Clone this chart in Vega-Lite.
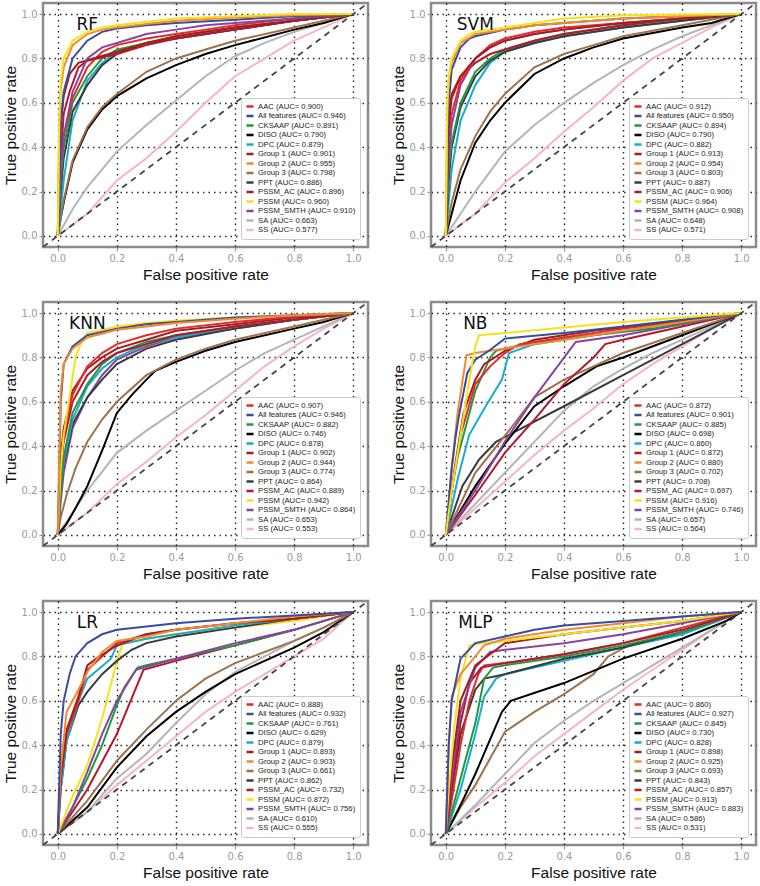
{
"$schema": "https://vega.github.io/schema/vega-lite/v6.json",
"background": "white",
"padding": {"left": 1, "top": 1, "right": 1, "bottom": 1},
"datasets": {
"RFa": [{"k":"AAC","l":"AAC (AUC= 0.900)"},{"k":"All features","l":"All features (AUC= 0.946)"},{"k":"CKSAAP","l":"CKSAAP (AUC= 0.891)"},{"k":"DISO","l":"DISO (AUC= 0.790)"},{"k":"DPC","l":"DPC (AUC= 0.879)"},{"k":"Group 1","l":"Group 1 (AUC= 0.901)"},{"k":"Group 2","l":"Group 2 (AUC= 0.955)"},{"k":"Group 3","l":"Group 3 (AUC= 0.798)"},{"k":"PPT","l":"PPT (AUC= 0.886)"},{"k":"PSSM_AC","l":"PSSM_AC (AUC= 0.896)"},{"k":"PSSM","l":"PSSM (AUC= 0.960)"},{"k":"PSSM_SMTH","l":"PSSM_SMTH (AUC= 0.910)"},{"k":"SA","l":"SA (AUC= 0.663)"},{"k":"SS","l":"SS (AUC= 0.577)"}],
"SVMa": [{"k":"AAC","l":"AAC (AUC= 0.912)"},{"k":"All features","l":"All features (AUC= 0.950)"},{"k":"CKSAAP","l":"CKSAAP (AUC= 0.894)"},{"k":"DISO","l":"DISO (AUC= 0.790)"},{"k":"DPC","l":"DPC (AUC= 0.882)"},{"k":"Group 1","l":"Group 1 (AUC= 0.913)"},{"k":"Group 2","l":"Group 2 (AUC= 0.954)"},{"k":"Group 3","l":"Group 3 (AUC= 0.803)"},{"k":"PPT","l":"PPT (AUC= 0.887)"},{"k":"PSSM_AC","l":"PSSM_AC (AUC= 0.906)"},{"k":"PSSM","l":"PSSM (AUC= 0.964)"},{"k":"PSSM_SMTH","l":"PSSM_SMTH (AUC= 0.908)"},{"k":"SA","l":"SA (AUC= 0.648)"},{"k":"SS","l":"SS (AUC= 0.571)"}],
"KNNa": [{"k":"AAC","l":"AAC (AUC= 0.907)"},{"k":"All features","l":"All features (AUC= 0.946)"},{"k":"CKSAAP","l":"CKSAAP (AUC= 0.882)"},{"k":"DISO","l":"DISO (AUC= 0.746)"},{"k":"DPC","l":"DPC (AUC= 0.878)"},{"k":"Group 1","l":"Group 1 (AUC= 0.902)"},{"k":"Group 2","l":"Group 2 (AUC= 0.944)"},{"k":"Group 3","l":"Group 3 (AUC= 0.774)"},{"k":"PPT","l":"PPT (AUC= 0.864)"},{"k":"PSSM_AC","l":"PSSM_AC (AUC= 0.889)"},{"k":"PSSM","l":"PSSM (AUC= 0.942)"},{"k":"PSSM_SMTH","l":"PSSM_SMTH (AUC= 0.864)"},{"k":"SA","l":"SA (AUC= 0.653)"},{"k":"SS","l":"SS (AUC= 0.553)"}],
"NBa": [{"k":"AAC","l":"AAC (AUC= 0.872)"},{"k":"All features","l":"All features (AUC= 0.901)"},{"k":"CKSAAP","l":"CKSAAP (AUC= 0.885)"},{"k":"DISO","l":"DISO (AUC= 0.698)"},{"k":"DPC","l":"DPC (AUC= 0.860)"},{"k":"Group 1","l":"Group 1 (AUC= 0.872)"},{"k":"Group 2","l":"Group 2 (AUC= 0.880)"},{"k":"Group 3","l":"Group 3 (AUC= 0.702)"},{"k":"PPT","l":"PPT (AUC= 0.708)"},{"k":"PSSM_AC","l":"PSSM_AC (AUC= 0.697)"},{"k":"PSSM","l":"PSSM (AUC= 0.916)"},{"k":"PSSM_SMTH","l":"PSSM_SMTH (AUC= 0.746)"},{"k":"SA","l":"SA (AUC= 0.657)"},{"k":"SS","l":"SS (AUC= 0.564)"}],
"LRa": [{"k":"AAC","l":"AAC (AUC= 0.888)"},{"k":"All features","l":"All features (AUC= 0.932)"},{"k":"CKSAAP","l":"CKSAAP (AUC= 0.761)"},{"k":"DISO","l":"DISO (AUC= 0.629)"},{"k":"DPC","l":"DPC (AUC= 0.879)"},{"k":"Group 1","l":"Group 1 (AUC= 0.893)"},{"k":"Group 2","l":"Group 2 (AUC= 0.903)"},{"k":"Group 3","l":"Group 3 (AUC= 0.661)"},{"k":"PPT","l":"PPT (AUC= 0.862)"},{"k":"PSSM_AC","l":"PSSM_AC (AUC= 0.732)"},{"k":"PSSM","l":"PSSM (AUC= 0.872)"},{"k":"PSSM_SMTH","l":"PSSM_SMTH (AUC= 0.756)"},{"k":"SA","l":"SA (AUC= 0.610)"},{"k":"SS","l":"SS (AUC= 0.555)"}],
"MLPa": [{"k":"AAC","l":"AAC (AUC= 0.860)"},{"k":"All features","l":"All features (AUC= 0.927)"},{"k":"CKSAAP","l":"CKSAAP (AUC= 0.845)"},{"k":"DISO","l":"DISO (AUC= 0.730)"},{"k":"DPC","l":"DPC (AUC= 0.828)"},{"k":"Group 1","l":"Group 1 (AUC= 0.898)"},{"k":"Group 2","l":"Group 2 (AUC= 0.925)"},{"k":"Group 3","l":"Group 3 (AUC= 0.693)"},{"k":"PPT","l":"PPT (AUC= 0.843)"},{"k":"PSSM_AC","l":"PSSM_AC (AUC= 0.857)"},{"k":"PSSM","l":"PSSM (AUC= 0.913)"},{"k":"PSSM_SMTH","l":"PSSM_SMTH (AUC= 0.883)"},{"k":"SA","l":"SA (AUC= 0.586)"},{"k":"SS","l":"SS (AUC= 0.531)"}],
"RF": [
{"k":"SS","x":0,"y":0},{"k":"SS","x":0.1,"y":0.1},{"k":"SS","x":0.2,"y":0.25},{"k":"SS","x":0.3,"y":0.35},{"k":"SS","x":0.4,"y":0.47},{"k":"SS","x":0.5,"y":0.6},{"k":"SS","x":0.6,"y":0.72},{"k":"SS","x":0.7,"y":0.8},{"k":"SS","x":0.8,"y":0.88},{"k":"SS","x":0.9,"y":0.94},{"k":"SS","x":1,"y":1},
{"k":"SA","x":0,"y":0},{"k":"SA","x":0.05,"y":0.12},{"k":"SA","x":0.1,"y":0.22},{"k":"SA","x":0.2,"y":0.38},{"k":"SA","x":0.3,"y":0.5},{"k":"SA","x":0.4,"y":0.61},{"k":"SA","x":0.5,"y":0.72},{"k":"SA","x":0.6,"y":0.81},{"k":"SA","x":0.7,"y":0.87},{"k":"SA","x":0.8,"y":0.92},{"k":"SA","x":0.9,"y":0.96},{"k":"SA","x":1,"y":1},
{"k":"DISO","x":0,"y":0},{"k":"DISO","x":0.01,"y":0.08},{"k":"DISO","x":0.02,"y":0.15},{"k":"DISO","x":0.05,"y":0.33},{"k":"DISO","x":0.1,"y":0.48},{"k":"DISO","x":0.15,"y":0.57},{"k":"DISO","x":0.2,"y":0.63},{"k":"DISO","x":0.3,"y":0.71},{"k":"DISO","x":0.4,"y":0.77},{"k":"DISO","x":0.5,"y":0.82},{"k":"DISO","x":0.6,"y":0.86},{"k":"DISO","x":0.8,"y":0.93},{"k":"DISO","x":0.9,"y":0.96},{"k":"DISO","x":1,"y":1},
{"k":"Group 3","x":0,"y":0},{"k":"Group 3","x":0.01,"y":0.08},{"k":"Group 3","x":0.02,"y":0.16},{"k":"Group 3","x":0.05,"y":0.34},{"k":"Group 3","x":0.1,"y":0.49},{"k":"Group 3","x":0.15,"y":0.58},{"k":"Group 3","x":0.2,"y":0.64},{"k":"Group 3","x":0.3,"y":0.74},{"k":"Group 3","x":0.4,"y":0.8},{"k":"Group 3","x":0.5,"y":0.84},{"k":"Group 3","x":0.6,"y":0.88},{"k":"Group 3","x":0.8,"y":0.94},{"k":"Group 3","x":1,"y":1},
{"k":"DPC","x":0,"y":0},{"k":"DPC","x":0.01,"y":0.12},{"k":"DPC","x":0.02,"y":0.25},{"k":"DPC","x":0.05,"y":0.52},{"k":"DPC","x":0.1,"y":0.7},{"k":"DPC","x":0.15,"y":0.78},{"k":"DPC","x":0.2,"y":0.83},{"k":"DPC","x":0.3,"y":0.87},{"k":"DPC","x":0.4,"y":0.89},{"k":"DPC","x":0.5,"y":0.91},{"k":"DPC","x":0.6,"y":0.93},{"k":"DPC","x":0.8,"y":0.97},{"k":"DPC","x":1,"y":1},
{"k":"PPT","x":0,"y":0},{"k":"PPT","x":0.01,"y":0.2},{"k":"PPT","x":0.02,"y":0.35},{"k":"PPT","x":0.05,"y":0.56},{"k":"PPT","x":0.1,"y":0.68},{"k":"PPT","x":0.15,"y":0.77},{"k":"PPT","x":0.2,"y":0.82},{"k":"PPT","x":0.3,"y":0.87},{"k":"PPT","x":0.4,"y":0.89},{"k":"PPT","x":0.5,"y":0.91},{"k":"PPT","x":0.6,"y":0.93},{"k":"PPT","x":0.8,"y":0.97},{"k":"PPT","x":1,"y":1},
{"k":"CKSAAP","x":0,"y":0},{"k":"CKSAAP","x":0.01,"y":0.25},{"k":"CKSAAP","x":0.02,"y":0.4},{"k":"CKSAAP","x":0.05,"y":0.6},{"k":"CKSAAP","x":0.1,"y":0.72},{"k":"CKSAAP","x":0.15,"y":0.8},{"k":"CKSAAP","x":0.2,"y":0.84},{"k":"CKSAAP","x":0.3,"y":0.87},{"k":"CKSAAP","x":0.4,"y":0.9},{"k":"CKSAAP","x":0.5,"y":0.92},{"k":"CKSAAP","x":0.6,"y":0.94},{"k":"CKSAAP","x":0.8,"y":0.97},{"k":"CKSAAP","x":1,"y":1},
{"k":"PSSM_AC","x":0,"y":0},{"k":"PSSM_AC","x":0.01,"y":0.35},{"k":"PSSM_AC","x":0.02,"y":0.55},{"k":"PSSM_AC","x":0.04,"y":0.65},{"k":"PSSM_AC","x":0.07,"y":0.76},{"k":"PSSM_AC","x":0.1,"y":0.79},{"k":"PSSM_AC","x":0.2,"y":0.82},{"k":"PSSM_AC","x":0.3,"y":0.86},{"k":"PSSM_AC","x":0.4,"y":0.89},{"k":"PSSM_AC","x":0.5,"y":0.91},{"k":"PSSM_AC","x":0.6,"y":0.93},{"k":"PSSM_AC","x":0.8,"y":0.97},{"k":"PSSM_AC","x":1,"y":1},
{"k":"AAC","x":0,"y":0},{"k":"AAC","x":0.01,"y":0.3},{"k":"AAC","x":0.02,"y":0.45},{"k":"AAC","x":0.05,"y":0.62},{"k":"AAC","x":0.1,"y":0.76},{"k":"AAC","x":0.15,"y":0.83},{"k":"AAC","x":0.2,"y":0.86},{"k":"AAC","x":0.3,"y":0.89},{"k":"AAC","x":0.4,"y":0.91},{"k":"AAC","x":0.5,"y":0.93},{"k":"AAC","x":0.6,"y":0.95},{"k":"AAC","x":0.8,"y":0.98},{"k":"AAC","x":1,"y":1},
{"k":"Group 1","x":0,"y":0},{"k":"Group 1","x":0.005,"y":0.35},{"k":"Group 1","x":0.01,"y":0.5},{"k":"Group 1","x":0.02,"y":0.63},{"k":"Group 1","x":0.04,"y":0.73},{"k":"Group 1","x":0.07,"y":0.78},{"k":"Group 1","x":0.12,"y":0.8},{"k":"Group 1","x":0.2,"y":0.83},{"k":"Group 1","x":0.3,"y":0.87},{"k":"Group 1","x":0.4,"y":0.9},{"k":"Group 1","x":0.5,"y":0.92},{"k":"Group 1","x":0.6,"y":0.94},{"k":"Group 1","x":0.8,"y":0.97},{"k":"Group 1","x":1,"y":1},
{"k":"PSSM_SMTH","x":0,"y":0},{"k":"PSSM_SMTH","x":0.01,"y":0.3},{"k":"PSSM_SMTH","x":0.02,"y":0.45},{"k":"PSSM_SMTH","x":0.05,"y":0.65},{"k":"PSSM_SMTH","x":0.1,"y":0.8},{"k":"PSSM_SMTH","x":0.15,"y":0.85},{"k":"PSSM_SMTH","x":0.2,"y":0.87},{"k":"PSSM_SMTH","x":0.3,"y":0.91},{"k":"PSSM_SMTH","x":0.4,"y":0.93},{"k":"PSSM_SMTH","x":0.5,"y":0.95},{"k":"PSSM_SMTH","x":0.6,"y":0.96},{"k":"PSSM_SMTH","x":0.8,"y":0.98},{"k":"PSSM_SMTH","x":1,"y":1},
{"k":"All features","x":0,"y":0},{"k":"All features","x":0.01,"y":0.5},{"k":"All features","x":0.02,"y":0.65},{"k":"All features","x":0.05,"y":0.8},{"k":"All features","x":0.1,"y":0.88},{"k":"All features","x":0.15,"y":0.92},{"k":"All features","x":0.2,"y":0.935},{"k":"All features","x":0.3,"y":0.95},{"k":"All features","x":0.4,"y":0.96},{"k":"All features","x":0.6,"y":0.975},{"k":"All features","x":0.8,"y":0.99},{"k":"All features","x":1,"y":1},
{"k":"Group 2","x":0,"y":0},{"k":"Group 2","x":0.005,"y":0.5},{"k":"Group 2","x":0.01,"y":0.66},{"k":"Group 2","x":0.02,"y":0.76},{"k":"Group 2","x":0.05,"y":0.86},{"k":"Group 2","x":0.1,"y":0.91},{"k":"Group 2","x":0.15,"y":0.93},{"k":"Group 2","x":0.2,"y":0.94},{"k":"Group 2","x":0.3,"y":0.955},{"k":"Group 2","x":0.4,"y":0.97},{"k":"Group 2","x":0.6,"y":0.985},{"k":"Group 2","x":0.8,"y":0.995},{"k":"Group 2","x":1,"y":1},
{"k":"PSSM","x":0,"y":0},{"k":"PSSM","x":0.005,"y":0.55},{"k":"PSSM","x":0.01,"y":0.7},{"k":"PSSM","x":0.02,"y":0.8},{"k":"PSSM","x":0.05,"y":0.88},{"k":"PSSM","x":0.1,"y":0.92},{"k":"PSSM","x":0.15,"y":0.94},{"k":"PSSM","x":0.2,"y":0.95},{"k":"PSSM","x":0.3,"y":0.965},{"k":"PSSM","x":0.4,"y":0.98},{"k":"PSSM","x":0.6,"y":0.99},{"k":"PSSM","x":0.8,"y":1},{"k":"PSSM","x":1,"y":1}
],
"SVM": [
{"k":"SS","x":0,"y":0},{"k":"SS","x":0.1,"y":0.1},{"k":"SS","x":0.2,"y":0.24},{"k":"SS","x":0.3,"y":0.35},{"k":"SS","x":0.4,"y":0.47},{"k":"SS","x":0.5,"y":0.58},{"k":"SS","x":0.6,"y":0.7},{"k":"SS","x":0.7,"y":0.8},{"k":"SS","x":0.8,"y":0.87},{"k":"SS","x":0.9,"y":0.94},{"k":"SS","x":1,"y":1},
{"k":"SA","x":0,"y":0},{"k":"SA","x":0.05,"y":0.1},{"k":"SA","x":0.1,"y":0.2},{"k":"SA","x":0.2,"y":0.38},{"k":"SA","x":0.3,"y":0.5},{"k":"SA","x":0.4,"y":0.6},{"k":"SA","x":0.5,"y":0.69},{"k":"SA","x":0.6,"y":0.77},{"k":"SA","x":0.7,"y":0.84},{"k":"SA","x":0.8,"y":0.9},{"k":"SA","x":0.9,"y":0.95},{"k":"SA","x":1,"y":1},
{"k":"DISO","x":0,"y":0},{"k":"DISO","x":0.01,"y":0.05},{"k":"DISO","x":0.02,"y":0.1},{"k":"DISO","x":0.05,"y":0.25},{"k":"DISO","x":0.1,"y":0.42},{"k":"DISO","x":0.15,"y":0.52},{"k":"DISO","x":0.2,"y":0.6},{"k":"DISO","x":0.3,"y":0.73},{"k":"DISO","x":0.4,"y":0.8},{"k":"DISO","x":0.5,"y":0.85},{"k":"DISO","x":0.6,"y":0.89},{"k":"DISO","x":0.8,"y":0.94},{"k":"DISO","x":0.9,"y":0.96},{"k":"DISO","x":1,"y":1},
{"k":"Group 3","x":0,"y":0},{"k":"Group 3","x":0.01,"y":0.08},{"k":"Group 3","x":0.02,"y":0.15},{"k":"Group 3","x":0.05,"y":0.3},{"k":"Group 3","x":0.1,"y":0.45},{"k":"Group 3","x":0.15,"y":0.56},{"k":"Group 3","x":0.2,"y":0.64},{"k":"Group 3","x":0.3,"y":0.76},{"k":"Group 3","x":0.4,"y":0.82},{"k":"Group 3","x":0.5,"y":0.86},{"k":"Group 3","x":0.6,"y":0.9},{"k":"Group 3","x":0.8,"y":0.95},{"k":"Group 3","x":1,"y":1},
{"k":"DPC","x":0,"y":0},{"k":"DPC","x":0.01,"y":0.15},{"k":"DPC","x":0.02,"y":0.3},{"k":"DPC","x":0.05,"y":0.52},{"k":"DPC","x":0.1,"y":0.68},{"k":"DPC","x":0.15,"y":0.78},{"k":"DPC","x":0.2,"y":0.83},{"k":"DPC","x":0.3,"y":0.87},{"k":"DPC","x":0.4,"y":0.9},{"k":"DPC","x":0.6,"y":0.94},{"k":"DPC","x":0.8,"y":0.97},{"k":"DPC","x":1,"y":1},
{"k":"PPT","x":0,"y":0},{"k":"PPT","x":0.01,"y":0.25},{"k":"PPT","x":0.02,"y":0.4},{"k":"PPT","x":0.05,"y":0.58},{"k":"PPT","x":0.1,"y":0.72},{"k":"PPT","x":0.15,"y":0.79},{"k":"PPT","x":0.2,"y":0.83},{"k":"PPT","x":0.3,"y":0.87},{"k":"PPT","x":0.4,"y":0.9},{"k":"PPT","x":0.6,"y":0.94},{"k":"PPT","x":0.8,"y":0.97},{"k":"PPT","x":1,"y":1},
{"k":"CKSAAP","x":0,"y":0},{"k":"CKSAAP","x":0.01,"y":0.3},{"k":"CKSAAP","x":0.02,"y":0.42},{"k":"CKSAAP","x":0.05,"y":0.6},{"k":"CKSAAP","x":0.1,"y":0.74},{"k":"CKSAAP","x":0.15,"y":0.8},{"k":"CKSAAP","x":0.2,"y":0.84},{"k":"CKSAAP","x":0.3,"y":0.88},{"k":"CKSAAP","x":0.4,"y":0.91},{"k":"CKSAAP","x":0.6,"y":0.95},{"k":"CKSAAP","x":0.8,"y":0.98},{"k":"CKSAAP","x":1,"y":1},
{"k":"PSSM_AC","x":0,"y":0},{"k":"PSSM_AC","x":0.01,"y":0.55},{"k":"PSSM_AC","x":0.02,"y":0.64},{"k":"PSSM_AC","x":0.05,"y":0.72},{"k":"PSSM_AC","x":0.1,"y":0.78},{"k":"PSSM_AC","x":0.15,"y":0.82},{"k":"PSSM_AC","x":0.2,"y":0.84},{"k":"PSSM_AC","x":0.3,"y":0.88},{"k":"PSSM_AC","x":0.4,"y":0.91},{"k":"PSSM_AC","x":0.6,"y":0.95},{"k":"PSSM_AC","x":0.8,"y":0.98},{"k":"PSSM_AC","x":1,"y":1},
{"k":"PSSM_SMTH","x":0,"y":0},{"k":"PSSM_SMTH","x":0.01,"y":0.35},{"k":"PSSM_SMTH","x":0.02,"y":0.5},{"k":"PSSM_SMTH","x":0.05,"y":0.68},{"k":"PSSM_SMTH","x":0.1,"y":0.8},{"k":"PSSM_SMTH","x":0.15,"y":0.85},{"k":"PSSM_SMTH","x":0.2,"y":0.88},{"k":"PSSM_SMTH","x":0.3,"y":0.91},{"k":"PSSM_SMTH","x":0.4,"y":0.93},{"k":"PSSM_SMTH","x":0.6,"y":0.96},{"k":"PSSM_SMTH","x":0.8,"y":0.98},{"k":"PSSM_SMTH","x":1,"y":1},
{"k":"AAC","x":0,"y":0},{"k":"AAC","x":0.01,"y":0.45},{"k":"AAC","x":0.02,"y":0.55},{"k":"AAC","x":0.05,"y":0.7},{"k":"AAC","x":0.1,"y":0.8},{"k":"AAC","x":0.15,"y":0.86},{"k":"AAC","x":0.2,"y":0.89},{"k":"AAC","x":0.3,"y":0.92},{"k":"AAC","x":0.4,"y":0.94},{"k":"AAC","x":0.6,"y":0.96},{"k":"AAC","x":0.8,"y":0.98},{"k":"AAC","x":1,"y":1},
{"k":"Group 1","x":0,"y":0},{"k":"Group 1","x":0.01,"y":0.5},{"k":"Group 1","x":0.02,"y":0.62},{"k":"Group 1","x":0.05,"y":0.72},{"k":"Group 1","x":0.1,"y":0.8},{"k":"Group 1","x":0.15,"y":0.85},{"k":"Group 1","x":0.2,"y":0.88},{"k":"Group 1","x":0.3,"y":0.91},{"k":"Group 1","x":0.4,"y":0.93},{"k":"Group 1","x":0.6,"y":0.96},{"k":"Group 1","x":0.8,"y":0.98},{"k":"Group 1","x":1,"y":1},
{"k":"All features","x":0,"y":0},{"k":"All features","x":0.01,"y":0.6},{"k":"All features","x":0.02,"y":0.75},{"k":"All features","x":0.05,"y":0.85},{"k":"All features","x":0.08,"y":0.89},{"k":"All features","x":0.1,"y":0.9},{"k":"All features","x":0.2,"y":0.93},{"k":"All features","x":0.3,"y":0.95},{"k":"All features","x":0.4,"y":0.96},{"k":"All features","x":0.6,"y":0.98},{"k":"All features","x":0.8,"y":0.99},{"k":"All features","x":1,"y":1},
{"k":"Group 2","x":0,"y":0},{"k":"Group 2","x":0.005,"y":0.55},{"k":"Group 2","x":0.01,"y":0.7},{"k":"Group 2","x":0.02,"y":0.78},{"k":"Group 2","x":0.05,"y":0.87},{"k":"Group 2","x":0.1,"y":0.91},{"k":"Group 2","x":0.2,"y":0.93},{"k":"Group 2","x":0.3,"y":0.95},{"k":"Group 2","x":0.4,"y":0.96},{"k":"Group 2","x":0.6,"y":0.98},{"k":"Group 2","x":0.8,"y":0.99},{"k":"Group 2","x":1,"y":1},
{"k":"PSSM","x":0,"y":0},{"k":"PSSM","x":0.005,"y":0.6},{"k":"PSSM","x":0.01,"y":0.72},{"k":"PSSM","x":0.02,"y":0.8},{"k":"PSSM","x":0.05,"y":0.88},{"k":"PSSM","x":0.08,"y":0.91},{"k":"PSSM","x":0.1,"y":0.92},{"k":"PSSM","x":0.2,"y":0.94},{"k":"PSSM","x":0.3,"y":0.96},{"k":"PSSM","x":0.4,"y":0.98},{"k":"PSSM","x":0.6,"y":0.995},{"k":"PSSM","x":1,"y":1}
],
"KNN": [
{"k":"SS","x":0,"y":0},{"k":"SS","x":0.1,"y":0.1},{"k":"SS","x":0.2,"y":0.23},{"k":"SS","x":0.3,"y":0.33},{"k":"SS","x":0.4,"y":0.44},{"k":"SS","x":0.5,"y":0.54},{"k":"SS","x":0.6,"y":0.65},{"k":"SS","x":0.7,"y":0.76},{"k":"SS","x":0.8,"y":0.85},{"k":"SS","x":0.9,"y":0.93},{"k":"SS","x":1,"y":1},
{"k":"SA","x":0,"y":0},{"k":"SA","x":0.05,"y":0.1},{"k":"SA","x":0.1,"y":0.2},{"k":"SA","x":0.2,"y":0.37},{"k":"SA","x":0.3,"y":0.47},{"k":"SA","x":0.4,"y":0.56},{"k":"SA","x":0.5,"y":0.65},{"k":"SA","x":0.6,"y":0.74},{"k":"SA","x":0.7,"y":0.82},{"k":"SA","x":0.8,"y":0.88},{"k":"SA","x":0.9,"y":0.94},{"k":"SA","x":1,"y":1},
{"k":"DISO","x":0,"y":0},{"k":"DISO","x":0.03,"y":0.05},{"k":"DISO","x":0.06,"y":0.12},{"k":"DISO","x":0.1,"y":0.22},{"k":"DISO","x":0.15,"y":0.38},{"k":"DISO","x":0.2,"y":0.55},{"k":"DISO","x":0.25,"y":0.63},{"k":"DISO","x":0.3,"y":0.7},{"k":"DISO","x":0.33,"y":0.74},{"k":"DISO","x":0.4,"y":0.78},{"k":"DISO","x":0.5,"y":0.83},{"k":"DISO","x":0.6,"y":0.87},{"k":"DISO","x":0.8,"y":0.93},{"k":"DISO","x":0.9,"y":0.96},{"k":"DISO","x":1,"y":1},
{"k":"Group 3","x":0,"y":0},{"k":"Group 3","x":0.01,"y":0.08},{"k":"Group 3","x":0.03,"y":0.18},{"k":"Group 3","x":0.06,"y":0.3},{"k":"Group 3","x":0.1,"y":0.42},{"k":"Group 3","x":0.15,"y":0.52},{"k":"Group 3","x":0.2,"y":0.6},{"k":"Group 3","x":0.3,"y":0.72},{"k":"Group 3","x":0.4,"y":0.79},{"k":"Group 3","x":0.5,"y":0.84},{"k":"Group 3","x":0.6,"y":0.88},{"k":"Group 3","x":0.8,"y":0.94},{"k":"Group 3","x":1,"y":1},
{"k":"PSSM_SMTH","x":0,"y":0},{"k":"PSSM_SMTH","x":0.01,"y":0.15},{"k":"PSSM_SMTH","x":0.02,"y":0.28},{"k":"PSSM_SMTH","x":0.05,"y":0.48},{"k":"PSSM_SMTH","x":0.1,"y":0.62},{"k":"PSSM_SMTH","x":0.15,"y":0.72},{"k":"PSSM_SMTH","x":0.2,"y":0.79},{"k":"PSSM_SMTH","x":0.3,"y":0.85},{"k":"PSSM_SMTH","x":0.4,"y":0.89},{"k":"PSSM_SMTH","x":0.6,"y":0.93},{"k":"PSSM_SMTH","x":0.8,"y":0.97},{"k":"PSSM_SMTH","x":1,"y":1},
{"k":"PPT","x":0,"y":0},{"k":"PPT","x":0.01,"y":0.2},{"k":"PPT","x":0.02,"y":0.32},{"k":"PPT","x":0.05,"y":0.5},{"k":"PPT","x":0.1,"y":0.62},{"k":"PPT","x":0.15,"y":0.7},{"k":"PPT","x":0.2,"y":0.77},{"k":"PPT","x":0.3,"y":0.84},{"k":"PPT","x":0.4,"y":0.88},{"k":"PPT","x":0.6,"y":0.93},{"k":"PPT","x":0.8,"y":0.97},{"k":"PPT","x":1,"y":1},
{"k":"DPC","x":0,"y":0},{"k":"DPC","x":0.01,"y":0.2},{"k":"DPC","x":0.02,"y":0.33},{"k":"DPC","x":0.05,"y":0.52},{"k":"DPC","x":0.1,"y":0.67},{"k":"DPC","x":0.15,"y":0.75},{"k":"DPC","x":0.2,"y":0.8},{"k":"DPC","x":0.3,"y":0.86},{"k":"DPC","x":0.4,"y":0.89},{"k":"DPC","x":0.6,"y":0.94},{"k":"DPC","x":0.8,"y":0.97},{"k":"DPC","x":1,"y":1},
{"k":"CKSAAP","x":0,"y":0},{"k":"CKSAAP","x":0.01,"y":0.2},{"k":"CKSAAP","x":0.02,"y":0.35},{"k":"CKSAAP","x":0.05,"y":0.55},{"k":"CKSAAP","x":0.1,"y":0.68},{"k":"CKSAAP","x":0.15,"y":0.77},{"k":"CKSAAP","x":0.2,"y":0.82},{"k":"CKSAAP","x":0.3,"y":0.87},{"k":"CKSAAP","x":0.4,"y":0.9},{"k":"CKSAAP","x":0.6,"y":0.94},{"k":"CKSAAP","x":0.8,"y":0.97},{"k":"CKSAAP","x":1,"y":1},
{"k":"PSSM_AC","x":0,"y":0},{"k":"PSSM_AC","x":0.01,"y":0.3},{"k":"PSSM_AC","x":0.02,"y":0.42},{"k":"PSSM_AC","x":0.05,"y":0.6},{"k":"PSSM_AC","x":0.1,"y":0.72},{"k":"PSSM_AC","x":0.15,"y":0.78},{"k":"PSSM_AC","x":0.2,"y":0.82},{"k":"PSSM_AC","x":0.3,"y":0.86},{"k":"PSSM_AC","x":0.4,"y":0.9},{"k":"PSSM_AC","x":0.6,"y":0.94},{"k":"PSSM_AC","x":0.8,"y":0.97},{"k":"PSSM_AC","x":1,"y":1},
{"k":"Group 1","x":0,"y":0},{"k":"Group 1","x":0.01,"y":0.35},{"k":"Group 1","x":0.02,"y":0.48},{"k":"Group 1","x":0.05,"y":0.65},{"k":"Group 1","x":0.1,"y":0.75},{"k":"Group 1","x":0.15,"y":0.8},{"k":"Group 1","x":0.2,"y":0.84},{"k":"Group 1","x":0.3,"y":0.88},{"k":"Group 1","x":0.4,"y":0.92},{"k":"Group 1","x":0.6,"y":0.95},{"k":"Group 1","x":0.8,"y":0.98},{"k":"Group 1","x":1,"y":1},
{"k":"AAC","x":0,"y":0},{"k":"AAC","x":0.01,"y":0.3},{"k":"AAC","x":0.02,"y":0.45},{"k":"AAC","x":0.05,"y":0.63},{"k":"AAC","x":0.1,"y":0.76},{"k":"AAC","x":0.15,"y":0.82},{"k":"AAC","x":0.2,"y":0.86},{"k":"AAC","x":0.3,"y":0.9},{"k":"AAC","x":0.4,"y":0.93},{"k":"AAC","x":0.6,"y":0.96},{"k":"AAC","x":0.8,"y":0.985},{"k":"AAC","x":1,"y":1},
{"k":"PSSM","x":0,"y":0},{"k":"PSSM","x":0.01,"y":0.3},{"k":"PSSM","x":0.02,"y":0.45},{"k":"PSSM","x":0.04,"y":0.62},{"k":"PSSM","x":0.06,"y":0.8},{"k":"PSSM","x":0.08,"y":0.87},{"k":"PSSM","x":0.1,"y":0.91},{"k":"PSSM","x":0.2,"y":0.94},{"k":"PSSM","x":0.3,"y":0.955},{"k":"PSSM","x":0.4,"y":0.965},{"k":"PSSM","x":0.6,"y":0.98},{"k":"PSSM","x":0.8,"y":0.99},{"k":"PSSM","x":1,"y":1},
{"k":"All features","x":0,"y":0},{"k":"All features","x":0.01,"y":0.6},{"k":"All features","x":0.02,"y":0.77},{"k":"All features","x":0.05,"y":0.85},{"k":"All features","x":0.1,"y":0.9},{"k":"All features","x":0.2,"y":0.93},{"k":"All features","x":0.3,"y":0.95},{"k":"All features","x":0.4,"y":0.96},{"k":"All features","x":0.6,"y":0.98},{"k":"All features","x":0.8,"y":0.99},{"k":"All features","x":1,"y":1},
{"k":"Group 2","x":0,"y":0},{"k":"Group 2","x":0.01,"y":0.65},{"k":"Group 2","x":0.02,"y":0.77},{"k":"Group 2","x":0.05,"y":0.84},{"k":"Group 2","x":0.1,"y":0.89},{"k":"Group 2","x":0.2,"y":0.925},{"k":"Group 2","x":0.3,"y":0.94},{"k":"Group 2","x":0.4,"y":0.955},{"k":"Group 2","x":0.6,"y":0.975},{"k":"Group 2","x":0.8,"y":0.99},{"k":"Group 2","x":1,"y":1}
],
"NB": [
{"k":"SS","x":0,"y":0},{"k":"SS","x":0.1,"y":0.12},{"k":"SS","x":0.2,"y":0.24},{"k":"SS","x":0.3,"y":0.36},{"k":"SS","x":0.4,"y":0.47},{"k":"SS","x":0.5,"y":0.57},{"k":"SS","x":0.6,"y":0.68},{"k":"SS","x":0.7,"y":0.77},{"k":"SS","x":0.8,"y":0.85},{"k":"SS","x":0.9,"y":0.93},{"k":"SS","x":1,"y":1},
{"k":"SA","x":0,"y":0},{"k":"SA","x":0.1,"y":0.14},{"k":"SA","x":0.2,"y":0.28},{"k":"SA","x":0.3,"y":0.42},{"k":"SA","x":0.4,"y":0.56},{"k":"SA","x":0.5,"y":0.67},{"k":"SA","x":0.6,"y":0.75},{"k":"SA","x":0.7,"y":0.82},{"k":"SA","x":0.8,"y":0.88},{"k":"SA","x":0.9,"y":0.94},{"k":"SA","x":1,"y":1},
{"k":"PPT","x":0,"y":0},{"k":"PPT","x":0.056,"y":0.22},{"k":"PPT","x":0.113,"y":0.34},{"k":"PPT","x":0.17,"y":0.42},{"k":"PPT","x":0.4,"y":0.58},{"k":"PPT","x":0.6,"y":0.72},{"k":"PPT","x":0.8,"y":0.86},{"k":"PPT","x":1,"y":1},
{"k":"DISO","x":0,"y":0},{"k":"DISO","x":0.1,"y":0.22},{"k":"DISO","x":0.2,"y":0.41},{"k":"DISO","x":0.3,"y":0.58},{"k":"DISO","x":0.4,"y":0.67},{"k":"DISO","x":0.51,"y":0.76},{"k":"DISO","x":0.6,"y":0.8},{"k":"DISO","x":0.8,"y":0.9},{"k":"DISO","x":1,"y":1},
{"k":"Group 3","x":0,"y":0},{"k":"Group 3","x":0.1,"y":0.28},{"k":"Group 3","x":0.22,"y":0.48},{"k":"Group 3","x":0.3,"y":0.62},{"k":"Group 3","x":0.4,"y":0.7},{"k":"Group 3","x":0.5,"y":0.76},{"k":"Group 3","x":0.6,"y":0.82},{"k":"Group 3","x":0.8,"y":0.91},{"k":"Group 3","x":1,"y":1},
{"k":"PSSM_AC","x":0,"y":0},{"k":"PSSM_AC","x":0.1,"y":0.18},{"k":"PSSM_AC","x":0.2,"y":0.37},{"k":"PSSM_AC","x":0.3,"y":0.52},{"k":"PSSM_AC","x":0.4,"y":0.68},{"k":"PSSM_AC","x":0.5,"y":0.8},{"k":"PSSM_AC","x":0.54,"y":0.86},{"k":"PSSM_AC","x":0.6,"y":0.88},{"k":"PSSM_AC","x":0.8,"y":0.94},{"k":"PSSM_AC","x":1,"y":1},
{"k":"PSSM_SMTH","x":0,"y":0},{"k":"PSSM_SMTH","x":0.1,"y":0.2},{"k":"PSSM_SMTH","x":0.2,"y":0.42},{"k":"PSSM_SMTH","x":0.3,"y":0.62},{"k":"PSSM_SMTH","x":0.44,"y":0.87},{"k":"PSSM_SMTH","x":0.6,"y":0.9},{"k":"PSSM_SMTH","x":0.8,"y":0.95},{"k":"PSSM_SMTH","x":1,"y":1},
{"k":"DPC","x":0,"y":0},{"k":"DPC","x":0.04,"y":0.25},{"k":"DPC","x":0.079,"y":0.45},{"k":"DPC","x":0.135,"y":0.58},{"k":"DPC","x":0.19,"y":0.7},{"k":"DPC","x":0.214,"y":0.82},{"k":"DPC","x":0.3,"y":0.86},{"k":"DPC","x":0.4,"y":0.88},{"k":"DPC","x":0.6,"y":0.92},{"k":"DPC","x":0.8,"y":0.96},{"k":"DPC","x":1,"y":1},
{"k":"CKSAAP","x":0,"y":0},{"k":"CKSAAP","x":0.02,"y":0.2},{"k":"CKSAAP","x":0.04,"y":0.35},{"k":"CKSAAP","x":0.07,"y":0.5},{"k":"CKSAAP","x":0.1,"y":0.65},{"k":"CKSAAP","x":0.15,"y":0.8},{"k":"CKSAAP","x":0.17,"y":0.83},{"k":"CKSAAP","x":0.3,"y":0.87},{"k":"CKSAAP","x":0.5,"y":0.9},{"k":"CKSAAP","x":0.7,"y":0.93},{"k":"CKSAAP","x":1,"y":1},
{"k":"Group 1","x":0,"y":0},{"k":"Group 1","x":0.03,"y":0.3},{"k":"Group 1","x":0.06,"y":0.55},{"k":"Group 1","x":0.1,"y":0.7},{"k":"Group 1","x":0.13,"y":0.77},{"k":"Group 1","x":0.2,"y":0.83},{"k":"Group 1","x":0.3,"y":0.88},{"k":"Group 1","x":0.5,"y":0.92},{"k":"Group 1","x":0.7,"y":0.95},{"k":"Group 1","x":1,"y":1},
{"k":"AAC","x":0,"y":0},{"k":"AAC","x":0.02,"y":0.2},{"k":"AAC","x":0.05,"y":0.45},{"k":"AAC","x":0.1,"y":0.68},{"k":"AAC","x":0.15,"y":0.76},{"k":"AAC","x":0.2,"y":0.82},{"k":"AAC","x":0.25,"y":0.86},{"k":"AAC","x":0.4,"y":0.89},{"k":"AAC","x":0.6,"y":0.93},{"k":"AAC","x":0.8,"y":0.96},{"k":"AAC","x":1,"y":1},
{"k":"Group 2","x":0,"y":0},{"k":"Group 2","x":0.02,"y":0.3},{"k":"Group 2","x":0.04,"y":0.55},{"k":"Group 2","x":0.07,"y":0.81},{"k":"Group 2","x":0.1,"y":0.82},{"k":"Group 2","x":0.2,"y":0.84},{"k":"Group 2","x":0.3,"y":0.86},{"k":"Group 2","x":0.4,"y":0.88},{"k":"Group 2","x":0.6,"y":0.92},{"k":"Group 2","x":0.8,"y":0.96},{"k":"Group 2","x":1,"y":1},
{"k":"All features","x":0,"y":0},{"k":"All features","x":0.02,"y":0.3},{"k":"All features","x":0.034,"y":0.45},{"k":"All features","x":0.045,"y":0.54},{"k":"All features","x":0.073,"y":0.73},{"k":"All features","x":0.1,"y":0.79},{"k":"All features","x":0.146,"y":0.83},{"k":"All features","x":0.2,"y":0.885},{"k":"All features","x":0.4,"y":0.91},{"k":"All features","x":0.6,"y":0.94},{"k":"All features","x":0.8,"y":0.97},{"k":"All features","x":1,"y":1},
{"k":"PSSM","x":0,"y":0},{"k":"PSSM","x":0.02,"y":0.2},{"k":"PSSM","x":0.05,"y":0.45},{"k":"PSSM","x":0.08,"y":0.7},{"k":"PSSM","x":0.1,"y":0.85},{"k":"PSSM","x":0.113,"y":0.9},{"k":"PSSM","x":0.2,"y":0.91},{"k":"PSSM","x":0.4,"y":0.935},{"k":"PSSM","x":0.6,"y":0.96},{"k":"PSSM","x":0.8,"y":0.98},{"k":"PSSM","x":1,"y":1}
],
"LR": [
{"k":"SS","x":0,"y":0},{"k":"SS","x":0.1,"y":0.1},{"k":"SS","x":0.2,"y":0.22},{"k":"SS","x":0.3,"y":0.33},{"k":"SS","x":0.4,"y":0.44},{"k":"SS","x":0.5,"y":0.55},{"k":"SS","x":0.6,"y":0.64},{"k":"SS","x":0.7,"y":0.72},{"k":"SS","x":0.8,"y":0.8},{"k":"SS","x":0.9,"y":0.88},{"k":"SS","x":1,"y":1},
{"k":"SA","x":0,"y":0},{"k":"SA","x":0.1,"y":0.1},{"k":"SA","x":0.2,"y":0.25},{"k":"SA","x":0.3,"y":0.36},{"k":"SA","x":0.4,"y":0.5},{"k":"SA","x":0.5,"y":0.63},{"k":"SA","x":0.6,"y":0.73},{"k":"SA","x":0.7,"y":0.8},{"k":"SA","x":0.8,"y":0.87},{"k":"SA","x":0.9,"y":0.93},{"k":"SA","x":1,"y":1},
{"k":"DISO","x":0,"y":0},{"k":"DISO","x":0.1,"y":0.12},{"k":"DISO","x":0.2,"y":0.3},{"k":"DISO","x":0.3,"y":0.44},{"k":"DISO","x":0.4,"y":0.55},{"k":"DISO","x":0.5,"y":0.64},{"k":"DISO","x":0.6,"y":0.72},{"k":"DISO","x":0.7,"y":0.78},{"k":"DISO","x":0.8,"y":0.84},{"k":"DISO","x":0.9,"y":0.91},{"k":"DISO","x":1,"y":1},
{"k":"Group 3","x":0,"y":0},{"k":"Group 3","x":0.1,"y":0.15},{"k":"Group 3","x":0.2,"y":0.33},{"k":"Group 3","x":0.3,"y":0.47},{"k":"Group 3","x":0.4,"y":0.6},{"k":"Group 3","x":0.5,"y":0.7},{"k":"Group 3","x":0.6,"y":0.77},{"k":"Group 3","x":0.7,"y":0.82},{"k":"Group 3","x":0.8,"y":0.87},{"k":"Group 3","x":0.9,"y":0.93},{"k":"Group 3","x":1,"y":1},
{"k":"PSSM_AC","x":0,"y":0},{"k":"PSSM_AC","x":0.05,"y":0.1},{"k":"PSSM_AC","x":0.1,"y":0.2},{"k":"PSSM_AC","x":0.2,"y":0.45},{"k":"PSSM_AC","x":0.29,"y":0.74},{"k":"PSSM_AC","x":0.4,"y":0.78},{"k":"PSSM_AC","x":0.6,"y":0.85},{"k":"PSSM_AC","x":0.8,"y":0.92},{"k":"PSSM_AC","x":1,"y":1},
{"k":"CKSAAP","x":0,"y":0},{"k":"CKSAAP","x":0.05,"y":0.12},{"k":"CKSAAP","x":0.1,"y":0.25},{"k":"CKSAAP","x":0.15,"y":0.4},{"k":"CKSAAP","x":0.2,"y":0.58},{"k":"CKSAAP","x":0.225,"y":0.66},{"k":"CKSAAP","x":0.27,"y":0.75},{"k":"CKSAAP","x":0.3,"y":0.76},{"k":"CKSAAP","x":0.4,"y":0.79},{"k":"CKSAAP","x":0.6,"y":0.85},{"k":"CKSAAP","x":0.8,"y":0.92},{"k":"CKSAAP","x":1,"y":1},
{"k":"PSSM_SMTH","x":0,"y":0},{"k":"PSSM_SMTH","x":0.05,"y":0.12},{"k":"PSSM_SMTH","x":0.1,"y":0.28},{"k":"PSSM_SMTH","x":0.15,"y":0.45},{"k":"PSSM_SMTH","x":0.2,"y":0.6},{"k":"PSSM_SMTH","x":0.265,"y":0.74},{"k":"PSSM_SMTH","x":0.4,"y":0.79},{"k":"PSSM_SMTH","x":0.6,"y":0.86},{"k":"PSSM_SMTH","x":0.8,"y":0.92},{"k":"PSSM_SMTH","x":1,"y":1},
{"k":"PSSM","x":0,"y":0},{"k":"PSSM","x":0.05,"y":0.17},{"k":"PSSM","x":0.1,"y":0.31},{"k":"PSSM","x":0.15,"y":0.52},{"k":"PSSM","x":0.2,"y":0.78},{"k":"PSSM","x":0.22,"y":0.86},{"k":"PSSM","x":0.3,"y":0.88},{"k":"PSSM","x":0.4,"y":0.9},{"k":"PSSM","x":0.6,"y":0.93},{"k":"PSSM","x":0.8,"y":0.96},{"k":"PSSM","x":1,"y":1},
{"k":"PPT","x":0,"y":0},{"k":"PPT","x":0.01,"y":0.2},{"k":"PPT","x":0.03,"y":0.42},{"k":"PPT","x":0.07,"y":0.58},{"k":"PPT","x":0.1,"y":0.64},{"k":"PPT","x":0.15,"y":0.72},{"k":"PPT","x":0.2,"y":0.78},{"k":"PPT","x":0.25,"y":0.83},{"k":"PPT","x":0.3,"y":0.86},{"k":"PPT","x":0.4,"y":0.89},{"k":"PPT","x":0.6,"y":0.93},{"k":"PPT","x":0.8,"y":0.97},{"k":"PPT","x":1,"y":1},
{"k":"DPC","x":0,"y":0},{"k":"DPC","x":0.01,"y":0.2},{"k":"DPC","x":0.03,"y":0.42},{"k":"DPC","x":0.07,"y":0.6},{"k":"DPC","x":0.1,"y":0.7},{"k":"DPC","x":0.18,"y":0.79},{"k":"DPC","x":0.2,"y":0.85},{"k":"DPC","x":0.3,"y":0.88},{"k":"DPC","x":0.4,"y":0.9},{"k":"DPC","x":0.6,"y":0.94},{"k":"DPC","x":0.8,"y":0.97},{"k":"DPC","x":1,"y":1},
{"k":"AAC","x":0,"y":0},{"k":"AAC","x":0.01,"y":0.25},{"k":"AAC","x":0.03,"y":0.45},{"k":"AAC","x":0.07,"y":0.6},{"k":"AAC","x":0.1,"y":0.74},{"k":"AAC","x":0.15,"y":0.8},{"k":"AAC","x":0.2,"y":0.86},{"k":"AAC","x":0.3,"y":0.9},{"k":"AAC","x":0.4,"y":0.92},{"k":"AAC","x":0.6,"y":0.95},{"k":"AAC","x":0.8,"y":0.97},{"k":"AAC","x":1,"y":1},
{"k":"Group 1","x":0,"y":0},{"k":"Group 1","x":0.01,"y":0.25},{"k":"Group 1","x":0.03,"y":0.47},{"k":"Group 1","x":0.07,"y":0.62},{"k":"Group 1","x":0.1,"y":0.76},{"k":"Group 1","x":0.13,"y":0.79},{"k":"Group 1","x":0.2,"y":0.85},{"k":"Group 1","x":0.3,"y":0.9},{"k":"Group 1","x":0.4,"y":0.92},{"k":"Group 1","x":0.6,"y":0.95},{"k":"Group 1","x":0.8,"y":0.97},{"k":"Group 1","x":1,"y":1},
{"k":"Group 2","x":0,"y":0},{"k":"Group 2","x":0.01,"y":0.3},{"k":"Group 2","x":0.03,"y":0.55},{"k":"Group 2","x":0.07,"y":0.65},{"k":"Group 2","x":0.1,"y":0.73},{"k":"Group 2","x":0.15,"y":0.82},{"k":"Group 2","x":0.2,"y":0.87},{"k":"Group 2","x":0.3,"y":0.89},{"k":"Group 2","x":0.4,"y":0.92},{"k":"Group 2","x":0.6,"y":0.95},{"k":"Group 2","x":0.8,"y":0.98},{"k":"Group 2","x":1,"y":1},
{"k":"All features","x":0,"y":0},{"k":"All features","x":0.01,"y":0.45},{"k":"All features","x":0.02,"y":0.6},{"k":"All features","x":0.04,"y":0.72},{"k":"All features","x":0.06,"y":0.8},{"k":"All features","x":0.1,"y":0.86},{"k":"All features","x":0.15,"y":0.9},{"k":"All features","x":0.2,"y":0.92},{"k":"All features","x":0.3,"y":0.935},{"k":"All features","x":0.4,"y":0.95},{"k":"All features","x":0.6,"y":0.97},{"k":"All features","x":0.8,"y":0.985},{"k":"All features","x":1,"y":1}
],
"MLP": [
{"k":"SS","x":0,"y":0},{"k":"SS","x":0.1,"y":0.12},{"k":"SS","x":0.2,"y":0.23},{"k":"SS","x":0.3,"y":0.35},{"k":"SS","x":0.4,"y":0.45},{"k":"SS","x":0.5,"y":0.55},{"k":"SS","x":0.6,"y":0.65},{"k":"SS","x":0.7,"y":0.74},{"k":"SS","x":0.8,"y":0.83},{"k":"SS","x":0.9,"y":0.92},{"k":"SS","x":1,"y":1},
{"k":"SA","x":0,"y":0},{"k":"SA","x":0.1,"y":0.13},{"k":"SA","x":0.2,"y":0.27},{"k":"SA","x":0.3,"y":0.41},{"k":"SA","x":0.4,"y":0.51},{"k":"SA","x":0.5,"y":0.6},{"k":"SA","x":0.6,"y":0.68},{"k":"SA","x":0.7,"y":0.76},{"k":"SA","x":0.8,"y":0.84},{"k":"SA","x":0.9,"y":0.92},{"k":"SA","x":1,"y":1},
{"k":"Group 3","x":0,"y":0},{"k":"Group 3","x":0.05,"y":0.12},{"k":"Group 3","x":0.1,"y":0.22},{"k":"Group 3","x":0.2,"y":0.46},{"k":"Group 3","x":0.3,"y":0.55},{"k":"Group 3","x":0.4,"y":0.63},{"k":"Group 3","x":0.5,"y":0.72},{"k":"Group 3","x":0.55,"y":0.8},{"k":"Group 3","x":0.62,"y":0.85},{"k":"Group 3","x":0.8,"y":0.9},{"k":"Group 3","x":1,"y":1},
{"k":"DISO","x":0,"y":0},{"k":"DISO","x":0.05,"y":0.13},{"k":"DISO","x":0.1,"y":0.27},{"k":"DISO","x":0.19,"y":0.55},{"k":"DISO","x":0.22,"y":0.6},{"k":"DISO","x":0.4,"y":0.68},{"k":"DISO","x":0.6,"y":0.79},{"k":"DISO","x":0.8,"y":0.88},{"k":"DISO","x":0.95,"y":0.96},{"k":"DISO","x":1,"y":1},
{"k":"DPC","x":0,"y":0},{"k":"DPC","x":0.05,"y":0.2},{"k":"DPC","x":0.1,"y":0.45},{"k":"DPC","x":0.13,"y":0.62},{"k":"DPC","x":0.17,"y":0.7},{"k":"DPC","x":0.2,"y":0.72},{"k":"DPC","x":0.4,"y":0.78},{"k":"DPC","x":0.6,"y":0.84},{"k":"DPC","x":0.8,"y":0.9},{"k":"DPC","x":1,"y":1},
{"k":"PPT","x":0,"y":0},{"k":"PPT","x":0.02,"y":0.2},{"k":"PPT","x":0.05,"y":0.45},{"k":"PPT","x":0.1,"y":0.65},{"k":"PPT","x":0.13,"y":0.7},{"k":"PPT","x":0.2,"y":0.72},{"k":"PPT","x":0.4,"y":0.79},{"k":"PPT","x":0.6,"y":0.84},{"k":"PPT","x":0.8,"y":0.91},{"k":"PPT","x":1,"y":1},
{"k":"CKSAAP","x":0,"y":0},{"k":"CKSAAP","x":0.05,"y":0.25},{"k":"CKSAAP","x":0.1,"y":0.5},{"k":"CKSAAP","x":0.13,"y":0.7},{"k":"CKSAAP","x":0.16,"y":0.75},{"k":"CKSAAP","x":0.2,"y":0.76},{"k":"CKSAAP","x":0.4,"y":0.8},{"k":"CKSAAP","x":0.6,"y":0.85},{"k":"CKSAAP","x":0.8,"y":0.91},{"k":"CKSAAP","x":1,"y":1},
{"k":"AAC","x":0,"y":0},{"k":"AAC","x":0.02,"y":0.15},{"k":"AAC","x":0.05,"y":0.4},{"k":"AAC","x":0.08,"y":0.6},{"k":"AAC","x":0.11,"y":0.72},{"k":"AAC","x":0.13,"y":0.76},{"k":"AAC","x":0.2,"y":0.77},{"k":"AAC","x":0.4,"y":0.81},{"k":"AAC","x":0.6,"y":0.86},{"k":"AAC","x":0.8,"y":0.93},{"k":"AAC","x":1,"y":1},
{"k":"PSSM_AC","x":0,"y":0},{"k":"PSSM_AC","x":0.02,"y":0.2},{"k":"PSSM_AC","x":0.05,"y":0.5},{"k":"PSSM_AC","x":0.08,"y":0.68},{"k":"PSSM_AC","x":0.12,"y":0.75},{"k":"PSSM_AC","x":0.2,"y":0.77},{"k":"PSSM_AC","x":0.4,"y":0.81},{"k":"PSSM_AC","x":0.6,"y":0.86},{"k":"PSSM_AC","x":0.8,"y":0.92},{"k":"PSSM_AC","x":1,"y":1},
{"k":"PSSM_SMTH","x":0,"y":0},{"k":"PSSM_SMTH","x":0.02,"y":0.25},{"k":"PSSM_SMTH","x":0.05,"y":0.55},{"k":"PSSM_SMTH","x":0.1,"y":0.75},{"k":"PSSM_SMTH","x":0.15,"y":0.82},{"k":"PSSM_SMTH","x":0.2,"y":0.83},{"k":"PSSM_SMTH","x":0.4,"y":0.86},{"k":"PSSM_SMTH","x":0.6,"y":0.9},{"k":"PSSM_SMTH","x":0.8,"y":0.95},{"k":"PSSM_SMTH","x":1,"y":1},
{"k":"Group 1","x":0,"y":0},{"k":"Group 1","x":0.02,"y":0.3},{"k":"Group 1","x":0.05,"y":0.6},{"k":"Group 1","x":0.1,"y":0.76},{"k":"Group 1","x":0.15,"y":0.81},{"k":"Group 1","x":0.2,"y":0.86},{"k":"Group 1","x":0.4,"y":0.9},{"k":"Group 1","x":0.6,"y":0.93},{"k":"Group 1","x":0.8,"y":0.96},{"k":"Group 1","x":1,"y":1},
{"k":"PSSM","x":0,"y":0},{"k":"PSSM","x":0.01,"y":0.2},{"k":"PSSM","x":0.03,"y":0.5},{"k":"PSSM","x":0.05,"y":0.7},{"k":"PSSM","x":0.08,"y":0.85},{"k":"PSSM","x":0.12,"y":0.86},{"k":"PSSM","x":0.2,"y":0.87},{"k":"PSSM","x":0.4,"y":0.9},{"k":"PSSM","x":0.6,"y":0.93},{"k":"PSSM","x":0.8,"y":0.96},{"k":"PSSM","x":1,"y":1},
{"k":"Group 2","x":0,"y":0},{"k":"Group 2","x":0.01,"y":0.4},{"k":"Group 2","x":0.02,"y":0.62},{"k":"Group 2","x":0.05,"y":0.72},{"k":"Group 2","x":0.1,"y":0.8},{"k":"Group 2","x":0.13,"y":0.85},{"k":"Group 2","x":0.2,"y":0.88},{"k":"Group 2","x":0.4,"y":0.92},{"k":"Group 2","x":0.6,"y":0.95},{"k":"Group 2","x":0.8,"y":0.98},{"k":"Group 2","x":1,"y":1},
{"k":"All features","x":0,"y":0},{"k":"All features","x":0.01,"y":0.4},{"k":"All features","x":0.02,"y":0.6},{"k":"All features","x":0.05,"y":0.79},{"k":"All features","x":0.1,"y":0.86},{"k":"All features","x":0.2,"y":0.89},{"k":"All features","x":0.3,"y":0.92},{"k":"All features","x":0.4,"y":0.94},{"k":"All features","x":0.6,"y":0.96},{"k":"All features","x":0.8,"y":0.98},{"k":"All features","x":1,"y":1}
]
},
"columns": 2,
"spacing": {"row": 16, "column": 19},
"resolve": {"scale": {"color": "independent"}, "legend": {"color": "independent"}},
"concat": [
{"width": 325, "height": 244, "data": {"name": "RF"},
 "encoding": {"x": {"field": "x", "type": "quantitative", "scale": {"domain": [-0.05, 1.05], "nice": false, "zero": false}, "axis": {"title": "False positive rate", "values": [0, 0.2, 0.4, 0.6, 0.8, 1], "format": ".1f"}},
  "y": {"field": "y", "type": "quantitative", "scale": {"domain": [-0.05, 1.05], "nice": false, "zero": false}, "axis": {"title": "True positive rate", "values": [0, 0.2, 0.4, 0.6, 0.8, 1], "format": ".1f"}}},
 "layer": [
  {"transform": [{"lookup": "k", "from": {"data": {"name": "RFa"}, "key": "k", "fields": ["l"]}}],
   "mark": {"type": "line", "strokeWidth": 2, "clip": true},
   "encoding": {"color": {"field": "l", "type": "nominal", "legend": {"title": null},
    "scale": {"domain": ["AAC (AUC= 0.900)","All features (AUC= 0.946)","CKSAAP (AUC= 0.891)","DISO (AUC= 0.790)","DPC (AUC= 0.879)","Group 1 (AUC= 0.901)","Group 2 (AUC= 0.955)","Group 3 (AUC= 0.798)","PPT (AUC= 0.886)","PSSM_AC (AUC= 0.896)","PSSM (AUC= 0.960)","PSSM_SMTH (AUC= 0.910)","SA (AUC= 0.663)","SS (AUC= 0.577)"],
     "range": ["#e62a2a","#3a4ca0","#1f9940","#000000","#1aaccc","#a51d1d","#f28a30","#a0724c","#3b3b3b","#b5172d","#f2e31c","#8b43a0","#b5b5b5","#f5b5c5"]}}}},
  {"data": {"values": [{"x": -0.05, "y": -0.05}, {"x": 1.05, "y": 1.05}]}, "mark": {"type": "line", "strokeDash": [6, 5], "color": "#444444", "strokeWidth": 1.8, "clip": true}, "encoding": {}},
  {"data": {"values": [{"x": 0.1, "y": 0.95, "t": "RF"}]}, "mark": {"type": "text", "fontSize": 17, "font": "DejaVu Sans", "color": "#111"}, "encoding": {"text": {"field": "t"}}}
 ]},
{"width": 325, "height": 244, "data": {"name": "SVM"},
 "encoding": {"x": {"field": "x", "type": "quantitative", "scale": {"domain": [-0.05, 1.05], "nice": false, "zero": false}, "axis": {"title": "False positive rate", "values": [0, 0.2, 0.4, 0.6, 0.8, 1], "format": ".1f"}},
  "y": {"field": "y", "type": "quantitative", "scale": {"domain": [-0.05, 1.05], "nice": false, "zero": false}, "axis": {"title": "True positive rate", "values": [0, 0.2, 0.4, 0.6, 0.8, 1], "format": ".1f"}}},
 "layer": [
  {"transform": [{"lookup": "k", "from": {"data": {"name": "SVMa"}, "key": "k", "fields": ["l"]}}],
   "mark": {"type": "line", "strokeWidth": 2, "clip": true},
   "encoding": {"color": {"field": "l", "type": "nominal", "legend": {"title": null},
    "scale": {"domain": ["AAC (AUC= 0.912)","All features (AUC= 0.950)","CKSAAP (AUC= 0.894)","DISO (AUC= 0.790)","DPC (AUC= 0.882)","Group 1 (AUC= 0.913)","Group 2 (AUC= 0.954)","Group 3 (AUC= 0.803)","PPT (AUC= 0.887)","PSSM_AC (AUC= 0.906)","PSSM (AUC= 0.964)","PSSM_SMTH (AUC= 0.908)","SA (AUC= 0.648)","SS (AUC= 0.571)"],
     "range": ["#e62a2a","#3a4ca0","#1f9940","#000000","#1aaccc","#a51d1d","#f28a30","#a0724c","#3b3b3b","#b5172d","#f2e31c","#8b43a0","#b5b5b5","#f5b5c5"]}}}},
  {"data": {"values": [{"x": -0.05, "y": -0.05}, {"x": 1.05, "y": 1.05}]}, "mark": {"type": "line", "strokeDash": [6, 5], "color": "#444444", "strokeWidth": 1.8, "clip": true}, "encoding": {}},
  {"data": {"values": [{"x": 0.1, "y": 0.95, "t": "SVM"}]}, "mark": {"type": "text", "fontSize": 17, "font": "DejaVu Sans", "color": "#111"}, "encoding": {"text": {"field": "t"}}}
 ]},
{"width": 325, "height": 244, "data": {"name": "KNN"},
 "encoding": {"x": {"field": "x", "type": "quantitative", "scale": {"domain": [-0.05, 1.05], "nice": false, "zero": false}, "axis": {"title": "False positive rate", "values": [0, 0.2, 0.4, 0.6, 0.8, 1], "format": ".1f"}},
  "y": {"field": "y", "type": "quantitative", "scale": {"domain": [-0.05, 1.05], "nice": false, "zero": false}, "axis": {"title": "True positive rate", "values": [0, 0.2, 0.4, 0.6, 0.8, 1], "format": ".1f"}}},
 "layer": [
  {"transform": [{"lookup": "k", "from": {"data": {"name": "KNNa"}, "key": "k", "fields": ["l"]}}],
   "mark": {"type": "line", "strokeWidth": 2, "clip": true},
   "encoding": {"color": {"field": "l", "type": "nominal", "legend": {"title": null},
    "scale": {"domain": ["AAC (AUC= 0.907)","All features (AUC= 0.946)","CKSAAP (AUC= 0.882)","DISO (AUC= 0.746)","DPC (AUC= 0.878)","Group 1 (AUC= 0.902)","Group 2 (AUC= 0.944)","Group 3 (AUC= 0.774)","PPT (AUC= 0.864)","PSSM_AC (AUC= 0.889)","PSSM (AUC= 0.942)","PSSM_SMTH (AUC= 0.864)","SA (AUC= 0.653)","SS (AUC= 0.553)"],
     "range": ["#e62a2a","#3a4ca0","#1f9940","#000000","#1aaccc","#a51d1d","#f28a30","#a0724c","#3b3b3b","#b5172d","#f2e31c","#8b43a0","#b5b5b5","#f5b5c5"]}}}},
  {"data": {"values": [{"x": -0.05, "y": -0.05}, {"x": 1.05, "y": 1.05}]}, "mark": {"type": "line", "strokeDash": [6, 5], "color": "#444444", "strokeWidth": 1.8, "clip": true}, "encoding": {}},
  {"data": {"values": [{"x": 0.1, "y": 0.95, "t": "KNN"}]}, "mark": {"type": "text", "fontSize": 17, "font": "DejaVu Sans", "color": "#111"}, "encoding": {"text": {"field": "t"}}}
 ]},
{"width": 325, "height": 244, "data": {"name": "NB"},
 "encoding": {"x": {"field": "x", "type": "quantitative", "scale": {"domain": [-0.05, 1.05], "nice": false, "zero": false}, "axis": {"title": "False positive rate", "values": [0, 0.2, 0.4, 0.6, 0.8, 1], "format": ".1f"}},
  "y": {"field": "y", "type": "quantitative", "scale": {"domain": [-0.05, 1.05], "nice": false, "zero": false}, "axis": {"title": "True positive rate", "values": [0, 0.2, 0.4, 0.6, 0.8, 1], "format": ".1f"}}},
 "layer": [
  {"transform": [{"lookup": "k", "from": {"data": {"name": "NBa"}, "key": "k", "fields": ["l"]}}],
   "mark": {"type": "line", "strokeWidth": 2, "clip": true},
   "encoding": {"color": {"field": "l", "type": "nominal", "legend": {"title": null},
    "scale": {"domain": ["AAC (AUC= 0.872)","All features (AUC= 0.901)","CKSAAP (AUC= 0.885)","DISO (AUC= 0.698)","DPC (AUC= 0.860)","Group 1 (AUC= 0.872)","Group 2 (AUC= 0.880)","Group 3 (AUC= 0.702)","PPT (AUC= 0.708)","PSSM_AC (AUC= 0.697)","PSSM (AUC= 0.916)","PSSM_SMTH (AUC= 0.746)","SA (AUC= 0.657)","SS (AUC= 0.564)"],
     "range": ["#e62a2a","#3a4ca0","#1f9940","#000000","#1aaccc","#a51d1d","#f28a30","#a0724c","#3b3b3b","#b5172d","#f2e31c","#8b43a0","#b5b5b5","#f5b5c5"]}}}},
  {"data": {"values": [{"x": -0.05, "y": -0.05}, {"x": 1.05, "y": 1.05}]}, "mark": {"type": "line", "strokeDash": [6, 5], "color": "#444444", "strokeWidth": 1.8, "clip": true}, "encoding": {}},
  {"data": {"values": [{"x": 0.1, "y": 0.95, "t": "NB"}]}, "mark": {"type": "text", "fontSize": 17, "font": "DejaVu Sans", "color": "#111"}, "encoding": {"text": {"field": "t"}}}
 ]},
{"width": 325, "height": 244, "data": {"name": "LR"},
 "encoding": {"x": {"field": "x", "type": "quantitative", "scale": {"domain": [-0.05, 1.05], "nice": false, "zero": false}, "axis": {"title": "False positive rate", "values": [0, 0.2, 0.4, 0.6, 0.8, 1], "format": ".1f"}},
  "y": {"field": "y", "type": "quantitative", "scale": {"domain": [-0.05, 1.05], "nice": false, "zero": false}, "axis": {"title": "True positive rate", "values": [0, 0.2, 0.4, 0.6, 0.8, 1], "format": ".1f"}}},
 "layer": [
  {"transform": [{"lookup": "k", "from": {"data": {"name": "LRa"}, "key": "k", "fields": ["l"]}}],
   "mark": {"type": "line", "strokeWidth": 2, "clip": true},
   "encoding": {"color": {"field": "l", "type": "nominal", "legend": {"title": null},
    "scale": {"domain": ["AAC (AUC= 0.888)","All features (AUC= 0.932)","CKSAAP (AUC= 0.761)","DISO (AUC= 0.629)","DPC (AUC= 0.879)","Group 1 (AUC= 0.893)","Group 2 (AUC= 0.903)","Group 3 (AUC= 0.661)","PPT (AUC= 0.862)","PSSM_AC (AUC= 0.732)","PSSM (AUC= 0.872)","PSSM_SMTH (AUC= 0.756)","SA (AUC= 0.610)","SS (AUC= 0.555)"],
     "range": ["#e62a2a","#3a4ca0","#1f9940","#000000","#1aaccc","#a51d1d","#f28a30","#a0724c","#3b3b3b","#b5172d","#f2e31c","#8b43a0","#b5b5b5","#f5b5c5"]}}}},
  {"data": {"values": [{"x": -0.05, "y": -0.05}, {"x": 1.05, "y": 1.05}]}, "mark": {"type": "line", "strokeDash": [6, 5], "color": "#444444", "strokeWidth": 1.8, "clip": true}, "encoding": {}},
  {"data": {"values": [{"x": 0.1, "y": 0.95, "t": "LR"}]}, "mark": {"type": "text", "fontSize": 17, "font": "DejaVu Sans", "color": "#111"}, "encoding": {"text": {"field": "t"}}}
 ]},
{"width": 325, "height": 244, "data": {"name": "MLP"},
 "encoding": {"x": {"field": "x", "type": "quantitative", "scale": {"domain": [-0.05, 1.05], "nice": false, "zero": false}, "axis": {"title": "False positive rate", "values": [0, 0.2, 0.4, 0.6, 0.8, 1], "format": ".1f"}},
  "y": {"field": "y", "type": "quantitative", "scale": {"domain": [-0.05, 1.05], "nice": false, "zero": false}, "axis": {"title": "True positive rate", "values": [0, 0.2, 0.4, 0.6, 0.8, 1], "format": ".1f"}}},
 "layer": [
  {"transform": [{"lookup": "k", "from": {"data": {"name": "MLPa"}, "key": "k", "fields": ["l"]}}],
   "mark": {"type": "line", "strokeWidth": 2, "clip": true},
   "encoding": {"color": {"field": "l", "type": "nominal", "legend": {"title": null},
    "scale": {"domain": ["AAC (AUC= 0.860)","All features (AUC= 0.927)","CKSAAP (AUC= 0.845)","DISO (AUC= 0.730)","DPC (AUC= 0.828)","Group 1 (AUC= 0.898)","Group 2 (AUC= 0.925)","Group 3 (AUC= 0.693)","PPT (AUC= 0.843)","PSSM_AC (AUC= 0.857)","PSSM (AUC= 0.913)","PSSM_SMTH (AUC= 0.883)","SA (AUC= 0.586)","SS (AUC= 0.531)"],
     "range": ["#e62a2a","#3a4ca0","#1f9940","#000000","#1aaccc","#a51d1d","#f28a30","#a0724c","#3b3b3b","#b5172d","#f2e31c","#8b43a0","#b5b5b5","#f5b5c5"]}}}},
  {"data": {"values": [{"x": -0.05, "y": -0.05}, {"x": 1.05, "y": 1.05}]}, "mark": {"type": "line", "strokeDash": [6, 5], "color": "#444444", "strokeWidth": 1.8, "clip": true}, "encoding": {}},
  {"data": {"values": [{"x": 0.1, "y": 0.95, "t": "MLP"}]}, "mark": {"type": "text", "fontSize": 17, "font": "DejaVu Sans", "color": "#111"}, "encoding": {"text": {"field": "t"}}}
 ]}
],
"config": {
 "view": {"stroke": "#8c8c8c", "strokeWidth": 2.5},
 "axis": {"grid": true, "gridColor": "#000000", "gridDash": [1.5, 4], "gridWidth": 1.4, "gridOpacity": 0.85, "domain": false, "tickColor": "#999999", "tickSize": 4, "tickWidth": 1.2, "labelColor": "#9a9a9a", "labelFontSize": 10, "labelFont": "DejaVu Sans", "labelPadding": 2, "labelFlush": false, "titleFont": "Liberation Sans", "titleFontSize": 15.5, "titleFontWeight": "normal", "titleColor": "#111111"},
 "axisX": {"titlePadding": 4},
 "axisY": {"titlePadding": 3},
 "legend": {"orient": "bottom-right", "offset": 8, "padding": 4, "fillColor": "#ffffff", "strokeColor": "#cccccc", "cornerRadius": 2, "symbolType": "stroke", "symbolSize": 50, "symbolStrokeWidth": 2.5, "labelFontSize": 7.7, "labelFont": "Liberation Sans", "labelColor": "#222222", "labelOffset": 3, "rowPadding": 0.5, "clipHeight": 9, "labelLimit": 300}
}
}
